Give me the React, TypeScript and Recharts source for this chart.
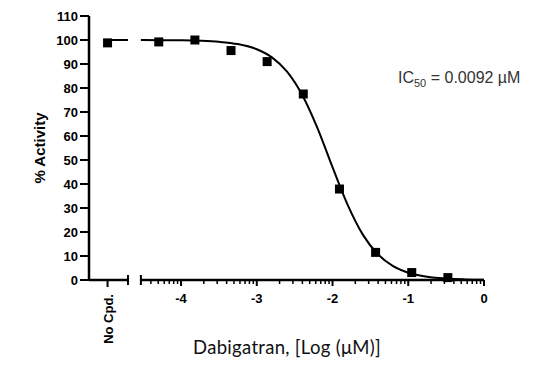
import React from 'react';
import { ComposedChart, Line, Scatter, XAxis, YAxis, ReferenceLine, Label } from 'recharts';

// measured points (log µM, % activity)
const logConc = [-4.294, -3.817, -3.34, -2.863, -2.386, -1.908, -1.431, -0.954, -0.477];
const activity = [99.2, 100.0, 95.6, 91.0, 77.5, 37.9, 11.5, 3.1, 1.0];
const noCpdActivity = [98.8];
const noCpdLine = [100, 100];

// fitted curve
const fitX = [-4.53, -4.5, -4.25, -4.0, -3.75, -3.5, -3.25, -3.0, -2.8, -2.6, -2.4, -2.2, -2.0, -1.8, -1.6, -1.4, -1.2, -1.0, -0.75, -0.5, -0.25, 0];
const fitY = [99.97, 99.97, 99.94, 99.86, 99.67, 99.25, 98.29, 96.15, 92.77, 86.8, 77.1, 63.4, 47.0, 31.3, 18.9, 10.7, 5.78, 3.05, 1.35, 0.59, 0.26, 0.11];

const yTicks = [0, 10, 20, 30, 40, 50, 60, 70, 80, 90, 100, 110];
const majorTicks = [-4, -3, -2, -1, 0];
const NO_CPD_LABEL = 'No Cpd.';
const NO_CPD_X = -4.97;
const X_MIN = -5.215;
const LEFT_END = -4.7;
const RIGHT_START = -4.53;

const minorTicks: number[] = [];
for (let d = -5; d <= -1; d++) {
  for (let k = 2; k <= 9; k++) {
    const v = d + Math.log10(k);
    if (v > RIGHT_START + 0.01 && v < 0) minorTicks.push(v);
  }
}
const allTicks = [NO_CPD_X, LEFT_END, RIGHT_START, ...minorTicks, ...majorTicks].sort((a, b) => a - b);

const points = logConc.map((x, i) => ({ x, y: activity[i] }));
const noCpdPoints = noCpdActivity.map((y) => ({ x: NO_CPD_X, y }));
const noCpdLineData = [{ x: NO_CPD_X, y: noCpdLine[0] }, { x: LEFT_END, y: noCpdLine[1] }];
const fit = fitX.map((x, i) => ({ x, y: fitY[i] }));

const FONT = "Arial, 'Liberation Sans', sans-serif";

const Square = (props: any) => {
  const { cx, cy } = props;
  return <rect x={cx - 4.5} y={cy - 4.5} width={9} height={9} fill="#000" />;
};

const XTick = (props: any) => {
  const { x, y, payload } = props;
  const v = payload.value;
  if (v === NO_CPD_X) {
    return (
      <g>
        <line x1={x} x2={x} y1={y} y2={y + 7} stroke="#000" strokeWidth={2} />
        <text
          x={x + 5}
          y={y + 14}
          transform={`rotate(-90, ${x + 5}, ${y + 14})`}
          textAnchor="end"
          fontFamily={FONT}
          fontWeight="bold"
          fontSize={13}
          fill="#000"
        >
          {NO_CPD_LABEL}
        </text>
      </g>
    );
  }
  if (v === LEFT_END || v === RIGHT_START) {
    return <line x1={x} x2={x} y1={y - 5} y2={y + 5} stroke="#000" strokeWidth={2} />;
  }
  if (majorTicks.includes(v)) {
    return (
      <g>
        <line x1={x} x2={x} y1={y} y2={y + 6} stroke="#000" strokeWidth={2} />
        <text x={x} y={y + 23} textAnchor="middle" fontFamily={FONT} fontWeight="bold" fontSize={13} fill="#000">
          {String(v)}
        </text>
      </g>
    );
  }
  return <line x1={x} x2={x} y1={y} y2={y + 4} stroke="#000" strokeWidth={1.5} />;
};

export default function App() {
  return (
    <div style={{ position: 'absolute', left: 0, top: 0, width: 545, height: 370, background: '#fff' }}>
      <ComposedChart width={545} height={370} margin={{ top: 16, right: 61, bottom: 0, left: 0 }}>
        <XAxis
          type="number"
          dataKey="x"
          domain={[X_MIN, 0]}
          allowDataOverflow
          ticks={allTicks}
          interval={0}
          tick={<XTick />}
          tickLine={false}
          axisLine={false}
          tickSize={0}
          tickMargin={0}
          height={90}
        >
          <Label
            content={() => (
              <text
                x={287}
                y={354}
                textAnchor="middle"
                fontFamily="Lato, 'Open Sans', sans-serif"
                fontSize={18.5}
                letterSpacing={0.3}
                fill="#111"
              >
                Dabigatran, [Log (μM)]
              </text>
            )}
          />
        </XAxis>
        <YAxis
          type="number"
          dataKey="y"
          domain={[0, 110]}
          ticks={yTicks}
          interval={0}
          width={89}
          tickSize={9}
          tickMargin={2}
          tick={{ fill: '#000', fontSize: 13, fontWeight: 'bold', fontFamily: FONT }}
          tickLine={{ stroke: '#000', strokeWidth: 2 }}
          axisLine={{ stroke: '#000', strokeWidth: 2.5 }}
        >
          <Label
            content={() => (
              <text
                x={45}
                y={148}
                transform="rotate(-90, 45, 148)"
                textAnchor="middle"
                fontFamily={FONT}
                fontWeight="bold"
                fontSize={15}
                fill="#000"
              >
                % Activity
              </text>
            )}
          />
          <Label
            content={() => (
              <text x={398} y={83} fontFamily={FONT} fontSize={16} fill="#333">
                IC
                <tspan fontSize={11} dy={4}>50</tspan>
                <tspan dy={-4}> = 0.0092 µM</tspan>
              </text>
            )}
          />
        </YAxis>
        <ReferenceLine segment={[{ x: X_MIN, y: 0 }, { x: LEFT_END, y: 0 }]} stroke="#000" strokeWidth={2.5} />
        <ReferenceLine segment={[{ x: RIGHT_START, y: 0 }, { x: 0, y: 0 }]} stroke="#000" strokeWidth={2.5} />
        <Line data={noCpdLineData} dataKey="y" type="linear" stroke="#000" strokeWidth={2} dot={false} isAnimationActive={false} />
        <Line data={fit} dataKey="y" type="monotone" stroke="#000" strokeWidth={2} dot={false} isAnimationActive={false} />
        <Scatter data={noCpdPoints} dataKey="y" shape={<Square />} isAnimationActive={false} />
        <Scatter data={points} dataKey="y" shape={<Square />} isAnimationActive={false} />
      </ComposedChart>
    </div>
  );
}
